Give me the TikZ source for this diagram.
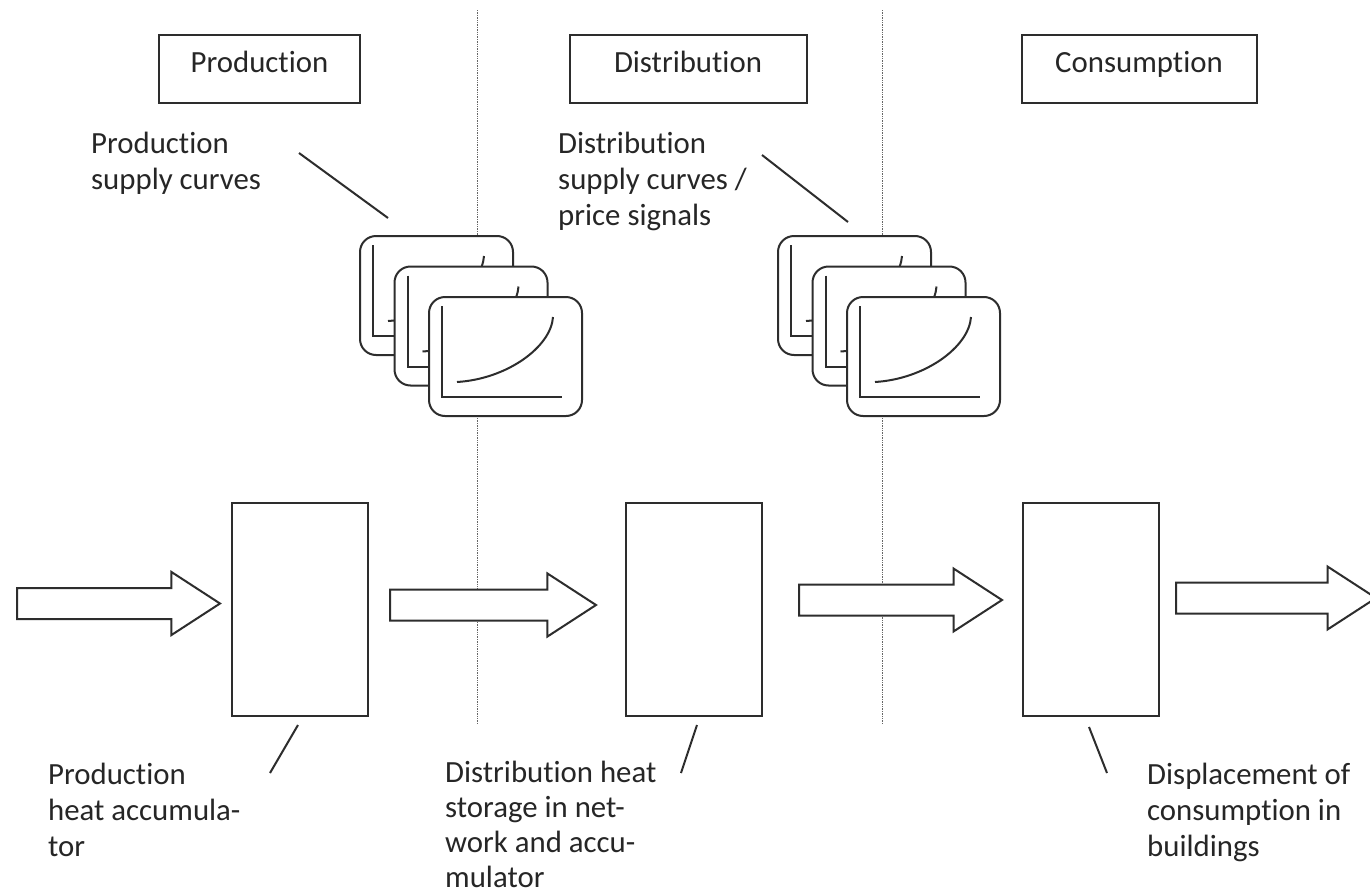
\documentclass[tikz,border=0pt]{standalone}
\usepackage{fontspec}
\setmainfont{Carlito}[Ligatures=NoCommon]
\usetikzlibrary{shapes.arrows,calc}
\definecolor{ink}{RGB}{45,45,45}
\definecolor{txt}{RGB}{38,38,38}

\tikzset{
  header/.style={draw=ink, line width=2pt, text=txt, minimum width=#1, minimum height=68pt,
    inner sep=0pt, text height=21pt, text depth=14pt},
  store/.style={draw=ink, line width=2pt, minimum width=136pt, minimum height=213pt},
  flow/.style={single arrow, draw=ink, fill=white, line width=2pt, inner xsep=0pt,
    inner ysep=14.5pt, minimum height=#1, single arrow head extend=16pt,
    single arrow tip angle=66, anchor=tail},
  card/.style={draw=ink, fill=white, line width=2pt, rounded corners=16pt,
    minimum width=153pt, minimum height=119pt},
  axis/.style={ink, line width=2pt},
  leader/.style={ink, line width=2pt},
  divider/.style={gray!80!black, line width=1.4pt, densely dotted},
  note/.style={anchor=north west, inner sep=0pt, align=left, text=txt},
}

\begin{document}
\begin{tikzpicture}[x=1pt, y=-1pt, font=\fontsize{30.8}{36.2}\selectfont]
  \useasboundingbox[fill=white] (0,0) rectangle (1370,894);

  % Phase dividers
  \draw[divider] (477.5,10) -- (477.5,725);
  \draw[divider] (882.5,10) -- (882.5,725);

  % Phase headers
  \node[header=201pt] (hd-prod) at (259.5,69) {Production};
  \node[header=237pt] (hd-dist) at (688,68.5) {Distribution};
  \node[header=235pt] (hd-cons) at (1139,68.5) {Consumption};

  % Supply curve cards
  \foreach \g/\gx in {p/0, d/418}
    \foreach \k in {0,1,2} {
      \node[card] (cv-\g\k) at (436.5+\gx+34.5*\k, 295.5+30.5*\k) {};
      \draw[axis] ($(cv-\g\k.north west)+(14,10)$) |- ($(cv-\g\k.north west)+(134,101)$);
      \draw[axis] ($(cv-\g\k.north west)+(29,86)$) .. controls +(50,-3) and +(-2,30) .. ($(cv-\g\k.north west)+(125,21)$);
    }

  % Flow arrows
  \node[flow=203pt] (fl-in) at (16,603.5) {};
  \node[flow=206pt] (fl-pd) at (389,605) {};
  \node[flow=203pt] (fl-dc) at (798,600) {};
  \node[flow=200pt] (fl-out) at (1175,598) {};

  % Storage boxes
  \node[store] (st-prod) at (300,609.5) {};
  \node[store] (st-dist) at (693.5,609.5) {};
  \node[store] (st-cons) at (1090.5,609.5) {};

  % Labels
  \node[note] (nt-psc) at (91,132) {Production\\supply curves};
  \node[note] (nt-dsc) at (558,132) {Distribution\\supply curves /\\price signals};
  \node[note] (nt-pha) at (48,763) {Production\\heat accumula-\\tor};
  \node[note, font=\fontsize{30.8}{35}\selectfont] (nt-dhs) at (445,761)
    {Distribution heat\\storage in net-\\work and accu-\\mulator};
  \node[note] (nt-dis) at (1147,763) {Displacement of\\consumption in\\buildings};

  % Leader lines
  \coordinate (ld-psc) at (299,153);  \coordinate (ld-pcv) at (388,218);
  \coordinate (ld-dsc) at (762,155);  \coordinate (ld-dcv) at (848,222);
  \coordinate (ld-pha) at (270,773);  \coordinate (ld-pst) at (298,725);
  \coordinate (ld-dhs) at (681,773);  \coordinate (ld-dst) at (697,725);
  \coordinate (ld-dis) at (1107,773); \coordinate (ld-cst) at (1089,727);
  \draw[leader] (ld-psc) -- (ld-pcv);
  \draw[leader] (ld-dsc) -- (ld-dcv);
  \draw[leader] (ld-pst) -- (ld-pha);
  \draw[leader] (ld-dst) -- (ld-dhs);
  \draw[leader] (ld-cst) -- (ld-dis);
\end{tikzpicture}
\end{document}
